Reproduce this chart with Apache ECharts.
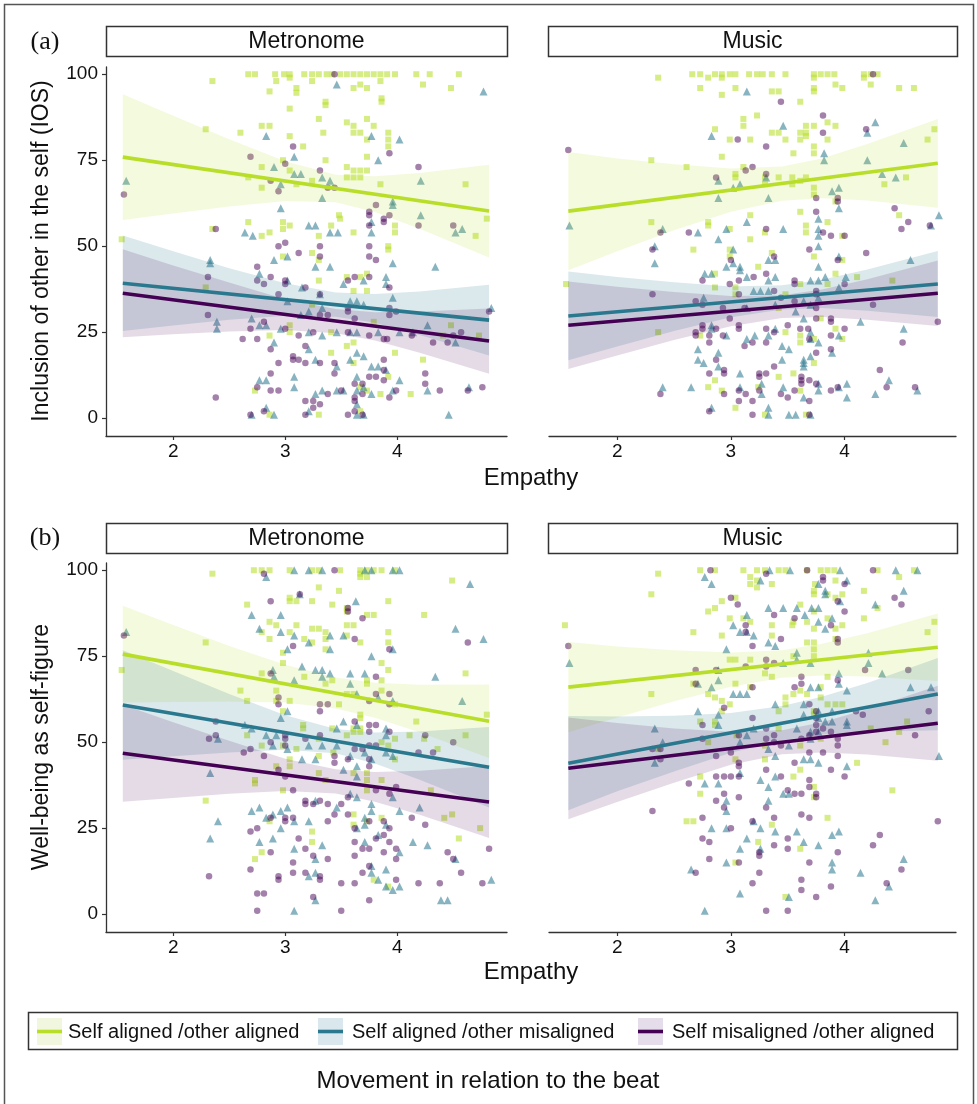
<!DOCTYPE html>
<html><head><meta charset="utf-8">
<script src="https://cdn.jsdelivr.net/npm/echarts@6.0.0/dist/echarts.min.js"></script>
<style>html,body{margin:0;padding:0;background:#fff}#chart{width:977px;height:1104px}</style>
</head><body><div id="chart"></div>
<script>
// ---------- DATA ----------
var facetNames = ['Metronome', 'Music'];
var groupNames = ['Self aligned /other aligned', 'Self aligned /other misaligned', 'Self misaligned /other aligned'];
var yTicks = [0, 25, 50, 75, 100];
var xTicks = [2, 3, 4];
var yTitles = ['Inclusion of other in the self (IOS)', 'Well-being as self-figure'];
var xTitle = 'Empathy';
var legendTitle = 'Movement in relation to the beat';

// (a) IOS - Metronome
var iosMetroAA = [[2.67,100],[2.73,100],[2.91,100],[2.99,100],[3.04,100],[3.17,100],[3.24,100],[3.30,100],[3.37,100],[3.42,100],[3.49,100],[3.55,100],[3.61,100],[3.67,100],[3.73,100],[3.79,100],[3.85,100],[3.91,100],[3.98,100],[4.17,100],[4.29,100],[4.55,100],
[2.35,98],[2.92,98],[3.04,99],[3.10,96],[3.10,94.6],[2.86,95],[3.24,98],[3.61,96],[3.67,97],[3.73,96],[3.85,98],[4.23,97],[4.48,96],[3.36,92],[3.36,91],[3.86,93],[3.86,92],[3.04,90],[3.30,87],[3.55,86],[3.61,85],[3.73,87],[3.79,85],[2.79,85],[2.86,85],[2.29,84],[2.60,83],[3.34,83],[3.61,83],[3.67,83],[3.92,83],[3.92,81],[3.73,81],[3.04,82],[3.16,79],[3.92,79],[3.73,76],[3.36,75],[2.98,75],[2.79,73],[3.04,72],[3.55,73],[3.61,72],[3.67,72],[3.73,72],[3.55,70],[3.61,70],[3.67,70],[2.67,70],[2.79,67],[3.10,68],[3.24,69],[3.85,68],[4.61,68],[3.48,59],[4.80,58],[2.67,57],[2.98,57],[2.98,55],[3.04,56],[3.41,56],[3.49,58],[3.61,54],[3.98,56],[3.98,54],[2.86,54],[2.79,53],[3.30,53],[4.70,53],[2.35,55],[1.54,52],[3.92,50],[3.92,49],[3.24,48],[2.98,47],
[3.30,46],[2.29,38],[3.30,40],[3.55,41],[3.61,37],[3.67,41],[3.73,42],[3.73,37],[3.24,33],[3.04,27],[3.04,25],[3.79,28],[4.41,24],[4.48,27],[4.73,24],[2.86,24],[3.41,25],[3.41,19],[3.55,21],[3.61,22],[3.61,16],[3.98,19],[4.23,17],[3.92,12],[3.67,9],[3.73,8],[3.85,7],[4.12,7],[2.73,8],[2.86,1],[3.30,1],[3.67,2]];
var iosMetroAM = [[3.46,97],[4.77,95],[2.83,82],[3.77,82],[4.02,81],[1.58,69],[2.90,73],[3.08,76],[3.83,75],[3.08,71],[3.14,71],[2.96,68],[3.33,70],[3.40,69],[4.21,69],[3.33,64],[2.96,61],[3.96,63],[3.96,62],[4.21,59],[2.64,54],[2.71,53],[3.21,56],[3.27,56],[3.40,54],[3.47,54],[3.77,57],[3.77,54],[4.52,54],[4.58,55],[2.33,46],[2.33,45],[3.02,47],[2.90,46],[3.27,44],[3.40,44],[3.96,45],[4.34,44],
[2.77,42],[3.02,40],[3.52,39],[3.70,40],[3.90,41],[3.90,39],[3.96,35],[3.31,36],[3.15,38],[3.02,34],[3.58,34],[3.64,34],[3.70,33],[2.39,28],[2.39,26],[2.70,29],[2.77,27],[2.83,27],[2.96,26],[3.14,30],[3.21,31],[3.33,32],[3.21,25],[3.33,24],[3.46,25],[3.58,25],[3.64,25],[3.83,25],[4.02,25],[4.14,25],[4.27,27],[4.52,22],[4.84,32],[2.90,22],[3.21,20],[3.27,17],[3.46,15],[3.58,17],[3.64,19],[3.70,18],[3.77,15],[3.83,15],[3.90,14],[4.02,11],[2.77,11],[2.83,11],[3.08,12],[3.08,9],[3.27,7],[3.33,8],[3.46,8],[3.52,8],[3.64,12],[3.64,8],[3.70,9],[3.77,7],[4.27,8],[4.64,9],[2.70,1],[2.83,3],[2.90,1],[3.21,2],[3.64,4],[3.64,1],[3.70,1],[4.46,1],[3.96,8]];
var iosMetroMA = [[3.44,100],[1.56,65],[2.69,76],[3.07,79],[3.00,74],[3.93,77],[4.19,73],[3.31,72],[2.87,69],[2.94,66],[3.38,67],[3.44,67],[3.81,62],[3.75,60],[3.75,59],[3.88,58],[3.88,57],[3.93,59],[3.75,56],[4.19,56],[4.50,56],[2.38,55],[2.94,50],[3.00,51],[3.31,50],[3.12,48],[3.31,47],[3.75,50],[3.75,47],[3.81,46],[2.75,44],
[2.31,41],[2.75,40],[2.81,39],[2.87,41],[3.00,40],[3.00,39],[2.94,36],[3.18,38],[3.31,36],[3.56,32],[3.56,31],[3.56,40],[3.62,41],[3.75,41],[3.93,38],[3.93,32],[3.93,30],[3.99,31],[2.31,30],[2.81,28],[2.69,26],[2.62,23],[2.75,23],[3.00,26],[3.12,24],[3.31,30],[3.38,30],[3.25,25],[3.56,25],[3.62,29],[3.75,24],[3.88,23],[3.91,23],[4.13,24],[4.32,22],[4.45,22],[4.50,24],[4.57,25],[4.82,31],[2.87,20],[3.18,21],[3.07,18],[3.07,17],[3.12,17],[2.94,16],[3.18,16],[3.31,16],[3.44,16],[3.44,13],[3.88,17],[3.88,14],[3.75,12],[3.81,12],[3.88,11],[3.62,10],[3.69,10],[4.25,13],[4.25,10],[4.38,8],[4.63,8],[4.76,9],[2.87,13],[2.75,9],[2.87,8],[2.94,8],[3.38,7],[3.50,8],[3.69,7],[3.93,6],[3.99,8],[2.38,6],[3.18,5],[3.25,5],[3.31,4],[3.25,3],[3.62,6],[3.62,5],[3.62,2],[2.69,1],[2.81,2],[3.18,1],[3.56,1],[3.69,1]];

// (a) IOS - Music
var iosMusicAA = [[2.66,100],[2.73,100],[2.86,100],[2.92,100],[2.99,100],[3.04,100],[3.16,100],[3.23,100],[3.28,100],[3.36,100],[3.48,100],[3.73,100],[3.79,100],[3.85,100],[3.91,100],[4.17,100],[4.23,100],[4.29,100],
[2.36,99],[2.80,99],[2.92,99],[3.73,99],[4.17,99],[2.73,96],[3.04,96],[3.36,95],[3.42,95],[3.73,96],[3.73,95],[3.92,97],[3.98,96],[4.23,97],[4.48,96],[4.61,96],[2.92,94],[3.61,92],[3.11,87],[3.11,85],[3.23,88],[2.86,84],[3.66,85],[3.73,85],[3.85,86],[3.92,85],[3.36,83],[3.42,83],[3.61,83],[3.66,83],[3.66,82],[2.99,81],[3.17,81],[3.48,81],[3.61,81],[3.85,81],[3.73,79],[3.73,77],[3.55,77],[2.92,76],[2.30,75],[2.61,73],[3.11,73],[3.04,71],[3.04,70],[3.30,70],[3.30,68],[3.42,70],[3.54,70],[3.54,68],[3.61,69],[3.66,70],[3.73,67],[3.73,65],[3.92,63],[4.35,68],[4.54,70],[4.73,81],[4.79,84],[3.61,60],[3.85,57],[3.66,56],[3.66,54],[3.17,59],[3.17,52],[2.30,57],[2.80,57],[2.80,56],[2.99,55],[2.67,49],[2.99,49],[2.99,47],[3.30,54],[3.98,53],[4.48,59],[3.24,44],[3.73,47],[3.98,46],
[1.55,39],[2.86,42],[2.86,38],[3.04,38],[3.04,36],[3.36,48],[3.48,36],[3.61,39],[3.79,29],[3.85,39],[3.92,42],[4.11,41],[4.42,40],[2.36,25],[2.73,24],[3.42,32],[3.48,25],[3.61,24],[3.61,22],[3.73,23],[3.92,26],[3.98,23],[3.73,16],[3.55,13],[3.42,12],[2.86,11],[2.80,9],[2.92,8],[3.24,9],[3.61,8],[3.04,3],[3.30,1],[3.66,1]];
var iosMusicAM = [[3.14,95],[3.46,85],[2.83,82],[4.27,86],[4.20,83],[3.82,77],[3.82,75],[4.20,75],[4.52,80],[3.31,70],[2.89,69],[3.02,67],[3.08,68],[3.33,64],[2.89,64],[3.89,66],[3.95,67],[3.95,61],[3.77,58],[3.77,55],[3.77,53],[3.77,50],[4.33,71],[4.45,70],[4.83,59],[4.76,56],[4.58,46],[1.58,56],[2.40,55],[2.71,54],[2.96,55],[3.46,55],[3.14,57],[2.89,52],[2.33,50],[2.33,45],[3.02,49],[2.96,44],[3.02,45],[3.08,44],[3.33,46],[3.39,46],[3.77,44],[3.95,47],[2.77,42],[2.83,42],
[3.08,43],[3.14,41],[3.33,40],[3.39,41],[3.70,40],[3.77,40],[3.83,41],[4.01,41],[3.95,38],[3.26,37],[3.20,37],[3.33,37],[2.76,35],[3.77,35],[3.14,32],[3.39,33],[3.57,31],[3.64,34],[3.70,33],[2.83,27],[4.14,28],[4.52,26],[2.83,26],[2.96,24],[3.14,23],[3.21,24],[3.33,24],[3.39,26],[3.64,29],[3.70,25],[3.70,23],[3.77,22],[3.95,24],[2.71,20],[2.71,17],[2.76,16],[2.89,19],[2.89,15],[3.45,21],[3.51,20],[3.45,17],[3.64,17],[3.64,16],[3.64,15],[3.70,18],[3.89,19],[3.08,13],[3.08,9],[3.27,10],[3.27,7],[3.46,9],[3.64,6],[3.77,10],[3.77,8],[3.95,9],[4.02,10],[4.02,6],[4.27,7],[4.39,11],[4.64,8],[2.40,9],[2.65,9],[2.83,3],[3.33,3],[3.33,1],[3.51,1],[3.57,1],[3.70,1]];
var iosMusicMA = [[4.25,100],[3.44,92],[3.81,88],[3.81,83],[3.06,81],[3.31,79],[4.19,84],[1.57,78],[3.13,72],[3.19,73],[3.31,71],[2.87,70],[3.75,64],[3.94,64],[3.94,63],[3.75,60],[4.44,61],[4.56,57],[4.50,55],[4.75,56],[3.31,55],[3.81,54],[3.88,53],[4.00,53],[2.63,54],[2.38,54],[3.69,49],[3.38,47],[3.00,46],[4.19,48],[2.31,49],[3.20,41],[3.07,40],[3.31,42],
[2.75,40],[2.75,33],[2.99,39],[3.07,36],[3.38,37],[3.56,39],[3.56,40],[4.00,39],[3.94,46],[3.75,37],[3.75,36],[2.31,36],[2.69,34],[2.93,32],[3.12,32],[3.44,35],[3.56,34],[3.75,32],[4.25,33],[4.82,28],[2.99,29],[3.75,29],[3.88,29],[3.88,28],[3.07,27],[2.75,27],[2.75,26],[2.69,25],[2.69,24],[2.81,24],[2.87,26],[2.93,24],[3.07,26],[3.31,26],[3.38,25],[3.50,27],[3.61,26],[3.68,26],[3.88,24],[4.00,26],[2.81,22],[3.12,21],[3.19,22],[3.31,22],[3.69,23],[3.88,20],[4.51,22],[2.87,17],[3.75,19],[3.38,15],[2.94,14],[2.94,13],[2.81,13],[3.25,13],[3.25,12],[3.31,13],[3.62,12],[3.62,11],[3.62,10],[3.69,11],[3.75,10],[3.07,8],[2.94,7],[3.13,7],[3.25,8],[3.44,7],[3.56,8],[3.88,8],[3.94,9],[4.31,14],[4.37,9],[4.62,9],[2.38,7],[2.81,2],[3.07,5],[3.19,5],[3.19,1],[3.50,6],[3.69,5],[3.69,1]];

// (b) Well-being - Metronome
var wbMetroAA = [[2.72,100],[2.79,100],[2.86,100],[3.04,100],[3.24,100],[3.30,100],[3.49,100],[3.67,100],[3.73,100],[3.79,100],[3.86,100],[3.98,100],
[2.35,99],[3.67,99],[3.73,98],[3.67,98],[4.49,97],[3.30,95],[3.48,94],[3.04,92],[3.10,91],[3.04,91],[3.24,91],[3.92,91],[2.66,90],[3.42,90],[3.55,89],[3.55,88],[3.73,87],[3.79,87],[4.24,87],[2.86,85],[2.92,84],[3.10,84],[3.55,84],[3.61,84],[3.30,83],[3.24,83],[2.79,82],[3.04,82],[3.36,82],[3.92,82],[3.55,81],[2.86,80],[3.36,80],[3.17,80],[3.67,79],[3.92,79],[3.24,79],[2.29,79],[2.98,76],[2.98,73],[3.36,77],[3.86,73],[3.92,71],[3.73,68],[3.73,67],[2.79,70],[3.17,69],[3.36,67],[3.42,68],[3.86,68],[4.61,70],[1.54,71],[2.60,65],[2.92,65],[3.55,64],[3.61,64],[3.86,65],[2.66,62],[2.92,62],[2.98,59],[3.04,62],[3.48,61],[4.17,56],[4.80,58],[3.67,58],[3.67,57],[3.16,55],[3.16,54],[3.42,54],[3.61,54],[3.67,54],[3.98,61],
[2.66,52],[2.79,49],[2.98,49],[3.10,48],[3.30,51],[3.30,46],[3.43,47],[3.55,52],[3.61,53],[3.67,53],[3.86,50],[3.92,49],[3.98,51],[4.11,52],[4.24,51],[4.61,52],[4.36,48],[3.98,45],[2.92,43],[3.04,45],[3.04,43],[3.30,41],[3.61,41],[3.73,41],[3.73,39],[2.73,39],[2.73,38],[3.36,39],[3.86,39],[2.98,36],[3.73,36],[4.30,36],[2.29,33],[3.61,29],[3.61,26],[2.86,27],[3.86,28],[4.42,28],[4.49,29],[3.73,27],[3.24,24],[3.24,21],[4.55,22],[4.74,25],[2.79,18],[2.73,16],[3.79,10],[3.92,8]];
var wbMetroAM = [[2.83,98],[3.08,100],[3.21,100],[3.33,100],[3.71,100],[3.77,100],[3.96,100],[4.02,100],[4.65,96],[3.13,93],[3.63,91],[2.70,87],[2.96,87],[2.77,83],[2.96,82],[3.08,81],[3.40,81],[3.21,79],[3.52,81],[3.02,77],[3.40,77],[3.96,77],[3.77,75],[4.52,83],[4.77,80],[1.58,82],[2.89,71],[3.15,72],[3.27,71],[3.33,71],[3.40,70],[3.58,70],[3.71,70],[4.34,69],[2.90,69],[3.08,68],[3.33,69],[3.58,67],[3.64,64],[3.83,63],[3.96,62],[4.58,62],[2.96,57],[3.02,59],[3.52,56],[3.64,55],[2.64,55],[2.70,54],[2.92,52],[3.46,54],[3.90,54],
[2.40,51],[2.33,41],[2.33,22],[2.40,27],[2.83,52],[2.89,49],[3.02,48],[3.15,45],[3.21,49],[3.33,49],[3.46,49],[3.27,45],[3.52,42],[3.58,46],[3.64,43],[3.64,40],[3.71,47],[3.77,45],[3.90,47],[3.90,52],[3.96,46],[3.58,35],[3.64,34],[3.77,32],[3.77,30],[3.96,34],[4.20,31],[2.70,30],[2.77,31],[2.83,28],[2.89,29],[2.96,30],[3.02,31],[3.08,27],[2.96,25],[3.21,27],[3.27,33],[3.46,31],[3.64,25],[3.71,28],[3.71,26],[3.90,26],[4.02,30],[2.77,21],[2.89,22],[3.08,19],[3.27,16],[3.33,20],[3.71,21],[3.83,23],[3.90,13],[4.02,18],[4.14,21],[4.27,20],[4.52,16],[3.21,11],[3.27,12],[3.77,14],[3.77,12],[3.83,10],[3.90,8],[3.96,7],[4.02,8],[4.84,10],[3.08,1],[3.27,4],[4.39,4],[4.45,4]];
var wbMetroMA = [[2.81,99],[3.44,100],[3.13,93],[2.87,91],[3.56,89],[3.69,86],[3.56,88],[3.62,80],[3.93,77],[3.07,78],[1.56,81],[4.63,79],[2.87,70],[3.81,69],[2.94,63],[2.94,61],[3.31,61],[3.38,61],[3.31,59],[3.81,64],[3.93,64],[3.93,61],[3.75,62],[3.62,56],[3.75,55],[3.81,55],[3.93,53],[4.25,52],[4.50,50],[2.38,56],[2.38,52],[2.32,51],[3.00,52],[3.00,51],[3.18,51],[3.31,52],
[2.63,47],[2.69,48],[2.81,46],[2.87,50],[3.00,49],[3.44,46],[3.44,44],[3.56,45],[3.62,48],[3.69,48],[3.75,53],[3.75,49],[3.75,45],[3.75,43],[3.81,49],[4.19,47],[4.32,47],[2.94,42],[3.00,40],[3.07,36],[3.18,33],[3.18,32],[3.25,32],[3.31,33],[3.38,32],[3.50,32],[3.56,34],[3.81,36],[3.93,35],[3.99,37],[2.87,28],[3.00,28],[3.00,27],[3.07,28],[3.38,27],[3.44,29],[3.56,29],[3.62,25],[3.75,27],[3.88,27],[3.93,25],[4.13,28],[4.25,26],[2.69,24],[2.75,25],[3.12,22],[3.18,19],[3.25,17],[3.38,16],[3.81,22],[3.88,23],[3.93,21],[3.62,21],[3.62,17],[3.69,19],[3.75,19],[3.88,18],[3.99,19],[3.99,16],[4.45,18],[4.50,16],[4.57,12],[4.82,19],[2.87,18],[2.69,13],[2.94,11],[2.94,10],[3.07,15],[3.07,12],[3.18,12],[3.31,11],[3.31,10],[3.50,9],[3.62,9],[3.69,12],[3.75,14],[3.99,10],[4.19,9],[4.38,9],[4.76,9],[2.32,11],[2.75,6],[2.81,6],[3.25,5],[3.75,4],[2.75,1],[3.50,1]];

// (b) Well-being - Music
var wbMusicAA = [[2.73,100],[2.86,100],[3.11,100],[3.23,100],[3.30,100],[3.42,100],[3.48,100],[3.67,100],[3.79,100],[3.85,100],[3.91,100],[4.29,100],[4.61,100],
[2.36,99],[3.17,98],[3.17,96],[3.23,97],[3.23,95],[3.36,96],[3.74,96],[3.92,97],[4.48,98],[4.17,94],[3.73,94],[3.73,93],[3.85,93],[3.92,92],[3.98,93],[2.30,93],[2.92,91],[3.04,92],[3.61,90],[4.29,89],[2.86,89],[2.80,88],[2.99,86],[3.11,86],[3.17,85],[3.55,85],[3.67,85],[3.73,88],[3.85,86],[4.17,86],[3.36,84],[3.54,84],[3.73,83],[3.92,83],[3.98,84],[4.79,85],[4.73,82],[2.67,82],[2.92,81],[3.36,81],[3.67,79],[3.73,79],[3.73,77],[3.73,75],[3.92,80],[1.54,84],[2.99,74],[3.04,74],[3.17,74],[3.55,75],[3.30,70],[3.36,69],[3.85,69],[3.79,66],[3.04,67],[3.17,66],[2.67,67],[2.80,64],[2.86,63],[2.92,62],[2.99,61],[3.48,61],[3.48,63],[3.55,64],[3.61,65],[3.67,64],[3.79,63],[3.85,61],[3.92,61],[3.98,61],[2.30,64],[2.73,56],[2.86,56],[2.92,59],[2.86,55],[3.42,59],[3.42,54],[3.73,59],[3.73,58],[4.55,56],[4.48,53],[4.23,54],[4.36,50],[2.36,48],[2.80,50],[3.05,52],[3.30,49],[3.61,49],[3.79,51],
[4.11,44],[3.04,45],[3.30,45],[3.61,42],[2.73,40],[3.55,40],[3.73,37],[3.73,34],[2.73,35],[4.42,36],[2.61,27],[2.67,27],[3.85,28],[3.36,26],[3.24,21],[3.61,19],[3.04,15],[3.48,5]];
var wbMusicAM = [[2.77,98],[2.83,96],[3.26,97],[3.34,100],[3.52,100],[3.96,100],[4.45,100],[4.64,100],[3.83,94],[3.83,93],[4.02,97],[3.77,96],[3.96,91],[4.52,94],[4.27,90],[3.33,89],[3.46,89],[3.58,89],[3.71,89],[3.77,89],[3.65,87],[3.89,86],[3.14,87],[3.02,84],[3.08,82],[3.14,82],[3.20,81],[3.33,79],[3.39,78],[3.83,83],[3.77,85],[3.58,76],[3.58,74],[3.70,73],[2.96,77],[3.46,73],[4.21,76],[4.21,73],[4.33,70],[2.89,71],[2.89,68],[2.71,67],[2.83,66],[3.02,64],[3.08,64],[3.14,64],[3.95,70],[3.95,67],[4.02,65],[3.70,66],[3.77,66],[4.58,66],[4.76,66],[1.58,73],[3.39,61],[3.64,61],[2.89,58],[2.71,59],[3.89,59],[3.64,58],[3.77,59],[3.77,57],[4.02,55],[3.58,54],[3.70,53],[3.77,53],[3.83,56],[2.33,54],[2.40,50],[3.14,52],[3.20,54],[3.33,48],[3.51,49],[3.70,51],[4.83,46],
[2.33,44],[2.89,55],[3.08,50],[3.89,56],[4.02,56],[3.39,46],[3.64,45],[3.70,45],[3.77,44],[4.02,43],[3.08,41],[3.39,40],[2.77,38],[2.89,38],[3.26,39],[3.33,37],[3.46,35],[3.51,35],[2.96,33],[3.33,33],[2.96,30],[2.83,25],[2.96,25],[3.26,25],[3.39,24],[3.58,24],[3.89,23],[3.95,24],[3.14,22],[3.08,19],[3.26,19],[3.64,21],[3.77,20],[2.96,15],[3.89,15],[3.89,13],[4.52,16],[2.65,13],[4.14,12],[4.39,8],[3.08,6],[3.51,5],[4.27,4],[2.77,1],[3.20,27]];
var wbMusicMA = [[2.82,100],[3.67,100],[4.25,100],[3.31,99],[3.81,98],[3.81,97],[4.00,96],[3.00,92],[3.06,90],[3.94,91],[4.44,92],[4.50,90],[3.38,87],[3.56,86],[4.00,88],[3.13,84],[3.13,82],[3.19,78],[3.88,84],[3.94,80],[3.94,79],[3.44,80],[3.31,74],[3.31,72],[3.38,73],[3.13,72],[3.62,69],[3.62,67],[3.56,66],[3.19,66],[2.87,71],[2.69,71],[4.18,71],[4.56,71],[1.57,78],[3.94,68],[3.69,61],[3.75,59],[3.75,57],[3.75,55],[3.81,54],[3.88,53],[4.10,59],[4.16,58],[4.74,59],[4.62,52],[2.94,60],[3.19,57],[3.31,54],[3.38,52],[2.69,67],[2.75,55],[2.75,51],[2.87,46],[3.07,52],[3.31,51],[3.38,50],[3.62,51],[3.69,52],[3.75,53],[3.94,49],[3.94,51],[2.38,48],
[3.00,47],[2.38,45],[2.31,48],[3.07,44],[3.07,43],[3.44,49],[3.69,47],[3.81,47],[3.94,46],[3.56,44],[3.31,42],[2.87,40],[2.94,40],[3.00,40],[3.07,40],[3.44,40],[3.69,39],[3.88,42],[4.00,40],[2.63,38],[2.87,33],[2.94,35],[2.94,31],[3.07,34],[3.31,31],[3.50,36],[3.56,35],[3.62,35],[3.69,37],[3.75,35],[3.75,34],[2.31,30],[2.75,28],[3.00,25],[3.19,27],[3.38,28],[3.62,29],[3.69,28],[4.82,27],[2.75,22],[2.81,21],[3.50,22],[3.50,19],[3.38,20],[3.25,18],[3.25,17],[4.25,20],[4.31,23],[3.94,18],[2.81,16],[3.07,15],[3.69,15],[2.69,12],[3.25,12],[3.19,9],[3.62,10],[3.62,7],[3.75,5],[3.88,8],[4.37,9],[4.50,13],[3.31,1],[3.50,1]];

// fitted regression lines (endpoints)
var fitIosMetroAA = [[1.55,75.9],[4.82,60.2]];
var fitIosMetroAM = [[1.55,39.2],[4.82,28.5]];
var fitIosMetroMA = [[1.55,36.3],[4.82,22.4]];
var fitIosMusicAA = [[1.57,60.2],[4.82,74.1]];
var fitIosMusicAM = [[1.57,29.7],[4.82,39.0]];
var fitIosMusicMA = [[1.57,27.0],[4.82,36.3]];
var fitWbMetroAA = [[1.55,75.6],[4.82,56.1]];
var fitWbMetroAM = [[1.55,60.8],[4.82,42.7]];
var fitWbMetroMA = [[1.55,46.8],[4.82,32.6]];
var fitWbMusicAA = [[1.57,66.0],[4.82,77.6]];
var fitWbMusicAM = [[1.57,43.9],[4.82,64.0]];
var fitWbMusicMA = [[1.57,42.4],[4.82,55.5]];

// confidence bands: [x, lower, upper]
var bandIosMetroAA = [[1.55,57.6,94.2],[2.0,59.5,87.9],[2.5,61.5,81.1],[3.0,63.1,74.7],[3.45,62.8,70.8],[3.8,59.9,70.3],[4.2,55.1,71.3],[4.82,46.7,73.7]];
var bandIosMetroAM = [[1.55,25.3,53.1],[2.0,26.9,48.5],[2.5,28.6,43.6],[3.0,29.8,39.2],[3.45,29.5,36.5],[3.8,27.7,36.1],[4.2,24.2,36.8],[4.82,18.2,38.8]];
var bandIosMetroMA = [[1.55,23.5,49.1],[2.0,24.4,44.4],[2.5,25.2,39.4],[3.0,25.6,34.6],[3.45,24.7,31.7],[3.8,22.6,30.8],[4.2,19.0,31.0],[4.82,12.9,31.9]];
var bandIosMusicAA = [[1.57,43.0,77.4],[2.0,48.5,75.5],[2.5,54.6,73.8],[3.0,60.0,72.6],[3.45,63.2,73.2],[3.8,63.9,75.5],[4.2,63.3,79.7],[4.82,61.2,87.0]];
var bandIosMusicAM = [[1.57,16.8,42.6],[2.0,20.8,41.0],[2.5,25.3,39.5],[3.0,29.3,38.3],[3.45,31.6,38.6],[3.8,32.0,40.2],[4.2,31.2,43.2],[4.82,29.4,48.6]];
var bandIosMusicMA = [[1.57,14.3,39.7],[2.0,18.2,38.2],[2.5,22.7,36.7],[3.0,26.7,35.5],[3.45,29.1,35.7],[3.8,29.4,37.4],[4.2,28.6,40.4],[4.82,26.8,45.8]];
var bandWbMetroAA = [[1.55,61.5,89.7],[2.0,61.7,84.1],[2.5,61.8,78.0],[3.0,61.5,72.5],[3.45,59.8,68.8],[3.8,57.1,67.3],[4.2,52.9,66.7],[4.82,45.4,66.8]];
var bandWbMetroAM = [[1.55,44.9,76.7],[2.0,45.9,70.7],[2.5,47.0,64.0],[3.0,47.8,57.8],[3.45,46.8,53.8],[3.8,43.8,52.8],[4.2,39.1,53.1],[4.82,31.0,54.4]];
var bandWbMetroMA = [[1.55,32.7,60.9],[2.0,33.8,55.8],[2.5,35.0,50.4],[3.0,35.8,45.2],[3.45,35.1,42.1],[3.8,32.7,41.3],[4.2,28.9,41.7],[4.82,22.1,43.1]];
var bandWbMusicAA = [[1.57,52.9,79.1],[2.0,57.2,77.8],[2.5,61.9,76.7],[3.0,66.1,76.1],[3.45,68.7,76.7],[3.8,69.4,78.6],[4.2,69.1,81.7],[4.82,67.8,87.4]];
var bandWbMusicAM = [[1.57,30.2,57.6],[2.0,35.7,57.5],[2.5,41.5,57.7],[3.0,46.9,58.5],[3.45,50.5,60.5],[3.8,52.2,63.2],[4.2,53.0,67.2],[4.82,53.5,74.5]];
var bandWbMusicMA = [[1.57,27.6,57.2],[2.0,32.6,55.6],[2.5,38.2,54.0],[3.0,43.4,53.0],[3.45,46.5,53.5],[3.8,47.0,55.8],[4.2,46.4,59.6],[4.82,44.6,66.4]];

// ---------- STYLE ----------
var lineColors = ['#B8DE29', '#2A788E', '#440154'];
var pointColors = ['rgba(184,222,41,0.72)', 'rgba(42,120,142,0.70)', 'rgba(68,1,84,0.62)'];
var bandColors = ['rgba(184,222,41,0.16)', 'rgba(42,120,142,0.17)', 'rgba(68,1,84,0.14)'];
var keyColors = ['#F1F7DF', '#DAE7EC', '#E6DDEA'];
var symbols = ['rect', 'triangle', 'circle'];
var symbolSizes = [6, 8, 6.5];
var FONT = 'Liberation Sans, Arial, sans-serif';

var panels = [
  {pts: [iosMetroAA, iosMetroAM, iosMetroMA], fit: [fitIosMetroAA, fitIosMetroAM, fitIosMetroMA], band: [bandIosMetroAA, bandIosMetroAM, bandIosMetroMA]},
  {pts: [iosMusicAA, iosMusicAM, iosMusicMA], fit: [fitIosMusicAA, fitIosMusicAM, fitIosMusicMA], band: [bandIosMusicAA, bandIosMusicAM, bandIosMusicMA]},
  {pts: [wbMetroAA, wbMetroAM, wbMetroMA], fit: [fitWbMetroAA, fitWbMetroAM, fitWbMetroMA], band: [bandWbMetroAA, bandWbMetroAM, bandWbMetroMA]},
  {pts: [wbMusicAA, wbMusicAM, wbMusicMA], fit: [fitWbMusicAA, fitWbMusicAM, fitWbMusicMA], band: [bandWbMusicAA, bandWbMusicAM, bandWbMusicMA]}
];
var grids = [
  {left: 106, top: 67, width: 401, height: 369},
  {left: 549, top: 67, width: 407, height: 369},
  {left: 106, top: 563, width: 401, height: 369},
  {left: 549, top: 563, width: 407, height: 369}
];

var xAxes = [], yAxes = [], series = [];
grids.forEach(function (g, i) {
  var isLeft = (i % 2 === 0);
  xAxes.push({
    type: 'value', gridIndex: i, min: 1.40, max: 4.98,
    splitLine: {show: false},
    axisLine: {show: true, onZero: false, lineStyle: {color: '#333', width: 1.3}},
    axisTick: {show: true, length: 4, lineStyle: {color: '#333', width: 1.2}, customValues: xTicks},
    axisLabel: {show: true, customValues: xTicks, fontSize: 19, color: '#111', fontFamily: FONT, margin: 6}
  });
  yAxes.push({
    type: 'value', gridIndex: i, min: -5.2, max: 102.1,
    splitLine: {show: false},
    axisLine: {show: isLeft, onZero: false, lineStyle: {color: '#333', width: 1.3}},
    axisTick: {show: isLeft, length: 4, lineStyle: {color: '#333', width: 1.2}, customValues: yTicks},
    axisLabel: {show: isLeft, customValues: yTicks, fontSize: 19, color: '#111', fontFamily: FONT, margin: 8}
  });
});

function makeBand(data, color, idx) {
  return {
    type: 'custom', xAxisIndex: idx, yAxisIndex: idx, data: data, silent: true, z: 3,
    encode: {x: 0, y: [1, 2]},
    renderItem: function (params, api) {
      if (params.dataIndex !== 0) return null;
      var up = data.map(function (r) { return api.coord([r[0], r[2]]); });
      var lo = data.map(function (r) { return api.coord([r[0], r[1]]); }).reverse();
      return {type: 'polygon', shape: {points: up.concat(lo)}, style: {fill: color, stroke: null}};
    }
  };
}

panels.forEach(function (p, i) {
  for (var k = 0; k < 3; k++) {
    series.push({
      type: 'scatter', name: groupNames[k], xAxisIndex: i, yAxisIndex: i, data: p.pts[k],
      symbol: symbols[k], symbolSize: symbolSizes[k], z: 2, silent: true,
      itemStyle: {color: pointColors[k]}
    });
  }
  for (var k2 = 0; k2 < 3; k2++) series.push(makeBand(p.band[k2], bandColors[k2], i));
  for (var k3 = 0; k3 < 3; k3++) {
    series.push({
      type: 'line', xAxisIndex: i, yAxisIndex: i, data: p.fit[k3], showSymbol: false, symbol: 'none', z: 4, silent: true,
      lineStyle: {color: lineColors[k3], width: 3.6}
    });
  }
});

// ---------- GRAPHIC (strips, titles, legend) ----------
var graphic = [];
graphic.push({type: 'rect', shape: {x: 4.5, y: 4.5, width: 969, height: 1200}, style: {fill: 'none', stroke: '#555', lineWidth: 1.5}, z: 0});
var strips = [
  {x: 106, y: 26, w: 401, h: 30, t: facetNames[0]},
  {x: 548, y: 26, w: 409, h: 30, t: facetNames[1]},
  {x: 106, y: 523, w: 401, h: 30, t: facetNames[0]},
  {x: 548, y: 523, w: 409, h: 30, t: facetNames[1]}
];
strips.forEach(function (s) {
  graphic.push({type: 'rect', shape: {x: s.x + 0.5, y: s.y + 0.5, width: s.w, height: s.h}, style: {fill: '#fff', stroke: '#333', lineWidth: 1.5}});
  graphic.push({type: 'text', x: s.x + s.w / 2, y: s.y + s.h / 2 + 1, style: {text: s.t, font: '23px ' + FONT, fill: '#111', textAlign: 'center', textVerticalAlign: 'middle'}});
});
graphic.push({type: 'text', x: 45, y: 42, style: {text: '(a)', font: '26px Liberation Serif, Times New Roman, serif', fill: '#111', textAlign: 'center', textVerticalAlign: 'middle'}});
graphic.push({type: 'text', x: 45, y: 538, style: {text: '(b)', font: '26px Liberation Serif, Times New Roman, serif', fill: '#111', textAlign: 'center', textVerticalAlign: 'middle'}});
graphic.push({type: 'text', x: 42, y: 251, rotation: Math.PI / 2, style: {text: yTitles[0], font: '23px ' + FONT, fill: '#111', textAlign: 'center', textVerticalAlign: 'middle'}});
graphic.push({type: 'text', x: 42, y: 747, rotation: Math.PI / 2, style: {text: yTitles[1], font: '23px ' + FONT, fill: '#111', textAlign: 'center', textVerticalAlign: 'middle'}});
graphic.push({type: 'text', x: 531, y: 478, style: {text: xTitle, font: '24px ' + FONT, fill: '#111', textAlign: 'center', textVerticalAlign: 'middle'}});
graphic.push({type: 'text', x: 531, y: 972, style: {text: xTitle, font: '24px ' + FONT, fill: '#111', textAlign: 'center', textVerticalAlign: 'middle'}});
// legend
graphic.push({type: 'rect', shape: {x: 28.5, y: 1012.5, width: 929, height: 37}, style: {fill: '#fff', stroke: '#333', lineWidth: 1.5}});
var keyX = [37, 318, 638];
var textX = [68, 352, 672];
for (var k = 0; k < 3; k++) {
  graphic.push({type: 'rect', shape: {x: keyX[k], y: 1018, width: 25, height: 27}, style: {fill: keyColors[k]}});
  graphic.push({type: 'line', shape: {x1: keyX[k], y1: 1031.5, x2: keyX[k] + 25, y2: 1031.5}, style: {stroke: lineColors[k], lineWidth: 3.6}});
  graphic.push({type: 'text', x: textX[k], y: 1032, style: {text: groupNames[k], font: '20px ' + FONT, fill: '#111', textAlign: 'left', textVerticalAlign: 'middle'}});
}
graphic.push({type: 'text', x: 488, y: 1081, style: {text: legendTitle, font: '24px ' + FONT, fill: '#111', textAlign: 'center', textVerticalAlign: 'middle'}});

var chart = echarts.init(document.getElementById('chart'), null, {renderer: 'canvas'});
chart.setOption({
  animation: false,
  backgroundColor: '#fff',
  grid: grids,
  xAxis: xAxes,
  yAxis: yAxes,
  series: series,
  graphic: graphic
});
</script></body></html>
